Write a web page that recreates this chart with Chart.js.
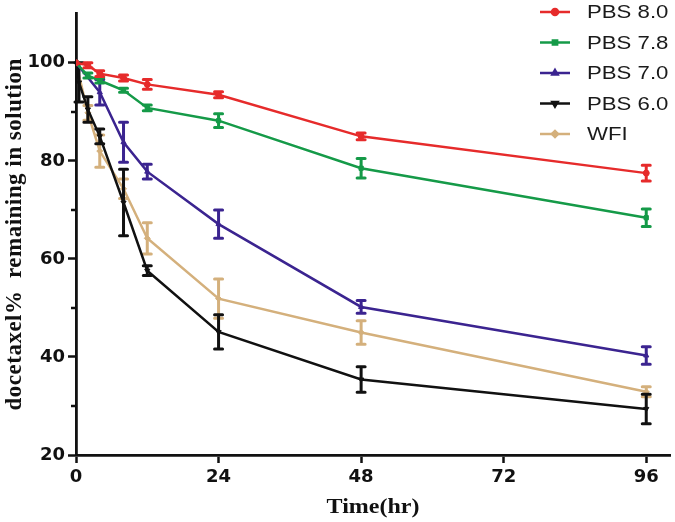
<!DOCTYPE html>
<html>
<head>
<meta charset="utf-8">
<script src="https://cdn.jsdelivr.net/npm/chart.js@4/dist/chart.umd.min.js"></script>
<style>
  html, body { margin: 0; padding: 0; background: #fff; }
  #wrap { width: 675px; height: 522px; position: relative; }
</style>
</head>
<body>
<div id="wrap"><canvas id="chart"></canvas></div>
<script>
// Docetaxel stability in different media.
const seriesNames = ['PBS 8.0', 'PBS 7.8', 'PBS 7.0', 'PBS 6.0', 'WFI'];

const hoursPbs80 = [0, 2, 4, 8, 12, 24, 48, 96];
const pbs80 = [100, 99.5, 97.8, 96.9, 95.6, 93.5, 85.0, 77.5];
const pbs80Err = [0, 0.5, 0.6, 0.6, 1.0, 0.6, 0.7, 1.6];

const hoursPbs78 = [0, 2, 4, 8, 12, 24, 48, 96];
const pbs78 = [100, 97.4, 96.4, 94.4, 90.8, 88.2, 78.5, 68.4];
const pbs78Err = [0, 0.5, 0.5, 0.4, 0.6, 1.4, 2.0, 1.8];

const hoursPbs70 = [0, 4, 8, 12, 24, 48, 96];
const pbs70 = [100, 94.0, 83.8, 77.8, 67.1, 50.2, 40.3];
const pbs70Err = [0, 2.6, 4.1, 1.5, 2.9, 1.3, 1.8];

const hoursPbs60 = [0, 0.5, 2, 4, 8, 12, 24, 48, 96];
const pbs60 = [100, 96.0, 90.5, 85.0, 71.5, 57.6, 45.1, 35.4, 29.4];
const pbs60Err = [0, 4.0, 2.6, 1.5, 6.8, 1.0, 3.5, 2.6, 3.0];

const hoursWfi = [0, 2, 4, 8, 12, 24, 48, 96];
const wfi = [100, 89.8, 82.0, 74.3, 64.2, 51.9, 45.0, 32.9];
const wfiErr = [0, 1.5, 3.3, 2.0, 3.2, 4.0, 2.4, 1.0];

const xTicks = [0, 24, 48, 72, 96];
const yTicks = [20, 40, 60, 80, 100];
const yMinorTicks = [30, 50, 70, 90];

const colors = ['#e62b2b', '#159a48', '#3b2490', '#111111', '#d4b07c'];
const markers = ['circle', 'rect', 'triangle', 'triangle', 'rectRot'];
const markerRot = [0, 0, 0, 180, 0];

function toPoints(xs, ys) {
    return xs.map((x, i) => ({ x: x, y: ys[i] }));
}

const seriesData = [
    toPoints(hoursPbs80, pbs80),
    toPoints(hoursPbs78, pbs78),
    toPoints(hoursPbs70, pbs70),
    toPoints(hoursPbs60, pbs60),
    toPoints(hoursWfi, wfi)
];
const seriesErr = [pbs80Err, pbs78Err, pbs70Err, pbs60Err, wfiErr];

// error bars are drawn right after each line so later series sit on top
const errorBars = {
    id: 'errorBars',
    afterDatasetDraw(chart, args) {
        const i = args.index;
        const errs = seriesErr[i];
        const meta = chart.getDatasetMeta(i);
        const y = chart.scales.y;
        const ctx = chart.ctx;
        ctx.save();
        ctx.strokeStyle = colors[i];
        ctx.lineWidth = 3;
        ctx.lineCap = 'round';
        meta.data.forEach((pt, j) => {
            const e = errs[j];
            if (!e) return;
            const v = seriesData[i][j].y;
            const top = y.getPixelForValue(v + e);
            const bot = y.getPixelForValue(v - e);
            ctx.beginPath();
            ctx.moveTo(pt.x, top);
            ctx.lineTo(pt.x, bot);
            ctx.moveTo(pt.x - 4, top);
            ctx.lineTo(pt.x + 4, top);
            ctx.moveTo(pt.x - 4, bot);
            ctx.lineTo(pt.x + 4, bot);
            ctx.stroke();
        });
        ctx.restore();
    }
};

// the source figure is a bit stretched sideways, so the free text is too
function wideText(ctx, text, x, y, sx) {
    ctx.save();
    ctx.translate(x, y);
    ctx.scale(sx, 1);
    ctx.fillText(text, 0, 0);
    ctx.restore();
}

// minor y ticks, axis titles and the legend in the top right
const decorations = {
    id: 'decorations',
    afterDraw(chart) {
        const ctx = chart.ctx;
        const y = chart.scales.y;
        const area = chart.chartArea;
        ctx.save();
        ctx.strokeStyle = '#111';
        ctx.lineWidth = 2.5;
        yMinorTicks.forEach(v => {
            const py = Math.round(y.getPixelForValue(v));
            ctx.beginPath();
            ctx.moveTo(area.left - 5, py);
            ctx.lineTo(area.left, py);
            ctx.stroke();
        });

        // axis titles
        ctx.fillStyle = '#111';
        ctx.textAlign = 'center';
        ctx.textBaseline = 'middle';
        ctx.font = 'bold 20px "Liberation Serif", "Times New Roman", serif';
        wideText(ctx, 'Time(hr)', (area.left + area.right) / 2, 508, 1.2);
        ctx.save();
        ctx.translate(15, (area.top + area.bottom) / 2);
        ctx.rotate(-Math.PI / 2);
        ctx.font = 'bold 23px "Liberation Serif", "Times New Roman", serif';
        ctx.letterSpacing = '0.5px';
        ctx.fillText('docetaxel%  remaining in solution', 0, 0);
        ctx.restore();

        // legend
        ctx.textAlign = 'left';
        ctx.font = '18.5px "Liberation Sans", Arial, sans-serif';
        seriesNames.forEach((name, i) => {
            const cy = 12 + i * 30.5;
            ctx.strokeStyle = colors[i];
            ctx.lineWidth = 2.5;
            ctx.beginPath();
            ctx.moveTo(540, cy);
            ctx.lineTo(570, cy);
            ctx.stroke();
            ctx.fillStyle = colors[i];
            Chart.helpers.drawPoint(ctx, {
                pointStyle: markers[i], radius: 3, rotation: markerRot[i], borderWidth: 1
            }, 555, cy);
            ctx.fillStyle = '#1a1a1a';
            wideText(ctx, name, 587, cy + 1, 1.2);
        });
        ctx.restore();
    }
};

const tickFont = { family: '"DejaVu Sans", Arial, sans-serif', size: 18, weight: 'bold' };

new Chart(document.getElementById('chart').getContext('2d'), {
    type: 'line',
    data: {
        datasets: seriesNames.map((name, i) => ({
            label: name,
            data: seriesData[i],
            borderColor: colors[i],
            backgroundColor: colors[i],
            borderWidth: 2.5,
            tension: 0,
            pointStyle: markers[i],
            pointRotation: markerRot[i],
            pointRadius: 3,
            pointBorderWidth: 1
        }))
    },
    options: {
        responsive: true,
        maintainAspectRatio: false,
        animation: false,
        layout: { padding: { top: 11, right: 2, left: 0, bottom: 0 } },
        plugins: {
            legend: { display: false },
            tooltip: { enabled: false }
        },
        scales: {
            x: {
                type: 'linear',
                min: 0,
                max: 100,
                afterBuildTicks: s => { s.ticks = xTicks.map(v => ({ value: v })); },
                afterFit: s => { s.height = 67; },
                border: { color: '#111', width: 2.8 },
                grid: { drawOnChartArea: false, drawTicks: true, tickLength: 8, tickWidth: 2.5, tickColor: '#111' },
                ticks: { color: '#111', padding: 4, font: tickFont }
            },
            y: {
                type: 'linear',
                min: 20,
                max: 110,
                afterBuildTicks: s => { s.ticks = yTicks.map(v => ({ value: v })); },
                afterFit: s => { s.width = 76; },
                border: { color: '#111', width: 2.8 },
                grid: { drawOnChartArea: false, drawTicks: true, tickLength: 8, tickWidth: 2.5, tickColor: '#111' },
                ticks: { color: '#111', padding: 3, font: tickFont }
            }
        }
    },
    plugins: [errorBars, decorations]
});
</script>
</body>
</html>
